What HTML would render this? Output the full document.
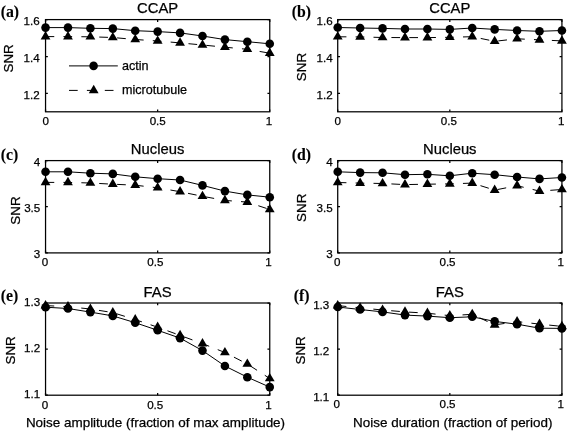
<!DOCTYPE html>
<html><head><meta charset="utf-8"><title>SNR vs noise</title>
<style>
html,body{margin:0;padding:0;background:#fff;}
body{width:568px;height:431px;overflow:hidden;}
svg{display:block;position:absolute;left:0;top:0;will-change:transform;}
text{font-family:"Liberation Sans",sans-serif;fill:#000;stroke:#000;stroke-width:0.25px;}
.tk{font-size:11.6px;}
.tt{font-size:14.8px;}
.lb{font-size:13.45px;}
.lg{font-size:12.6px;}
.tg{font-family:"Liberation Serif",serif;font-weight:bold;font-size:15.8px;stroke-width:0.1px;}
.ax{fill:none;stroke:#000;stroke-width:1.25;}
.ln{fill:none;stroke:#000;stroke-width:1.0;}
.ds{stroke-dasharray:8.7 9.2;}
.mk{fill:#000;stroke:none;}
</style></head>
<body>
<svg width="568" height="431" viewBox="0 0 568 431">
<rect x="0" y="0" width="568" height="431" fill="#fff"/>
<!-- panel a -->
<polyline class="ln" points="45.55,27.60 67.97,27.60 90.39,28.30 112.81,28.60 135.23,30.70 157.65,31.60 180.07,32.90 202.49,36.00 224.91,39.60 247.33,41.70 269.75,43.80"/>
<polyline class="ln ds" points="45.55,36.60 67.97,36.60 90.39,36.80 112.81,37.50 135.23,39.50 157.65,41.00 180.07,42.90 202.49,45.00 224.91,47.20 247.33,49.30 269.75,53.20"/>
<g class="mk">
<polygon points="45.55,31.00 40.65,39.40 50.45,39.40"/>
<polygon points="67.97,31.00 63.07,39.40 72.87,39.40"/>
<polygon points="90.39,31.20 85.49,39.60 95.29,39.60"/>
<polygon points="112.81,31.90 107.91,40.30 117.71,40.30"/>
<polygon points="135.23,33.90 130.33,42.30 140.13,42.30"/>
<polygon points="157.65,35.40 152.75,43.80 162.55,43.80"/>
<polygon points="180.07,37.30 175.17,45.70 184.97,45.70"/>
<polygon points="202.49,39.40 197.59,47.80 207.39,47.80"/>
<polygon points="224.91,41.60 220.01,50.00 229.81,50.00"/>
<polygon points="247.33,43.70 242.43,52.10 252.23,52.10"/>
<polygon points="269.75,47.60 264.85,56.00 274.65,56.00"/>
<circle cx="45.55" cy="27.60" r="4.3"/>
<circle cx="67.97" cy="27.60" r="4.3"/>
<circle cx="90.39" cy="28.30" r="4.3"/>
<circle cx="112.81" cy="28.60" r="4.3"/>
<circle cx="135.23" cy="30.70" r="4.3"/>
<circle cx="157.65" cy="31.60" r="4.3"/>
<circle cx="180.07" cy="32.90" r="4.3"/>
<circle cx="202.49" cy="36.00" r="4.3"/>
<circle cx="224.91" cy="39.60" r="4.3"/>
<circle cx="247.33" cy="41.70" r="4.3"/>
<circle cx="269.75" cy="43.80" r="4.3"/>
</g>
<rect class="ax" x="45.55" y="19.60" width="224.20" height="92.20"/>
<path class="ax" d="M45.55,19.60h2.3 M269.75,19.60h-2.3 M45.55,56.50h2.3 M269.75,56.50h-2.3 M45.55,93.30h2.3 M269.75,93.30h-2.3 M45.55,111.80v-2.3 M45.55,19.60v2.3 M157.65,111.80v-2.3 M157.65,19.60v2.3 M269.75,111.80v-2.3 M269.75,19.60v2.3"/>
<text class="tk" text-anchor="end" x="39.7" y="25.1">1.6</text>
<text class="tk" text-anchor="end" x="39.7" y="62.0">1.4</text>
<text class="tk" text-anchor="end" x="39.7" y="98.8">1.2</text>
<text class="tk" text-anchor="middle" x="45.8" y="125.1">0</text>
<text class="tk" text-anchor="middle" x="157.7" y="125.1">0.5</text>
<text class="tk" text-anchor="middle" x="269.1" y="125.1">1</text>
<text class="tt" text-anchor="middle" x="157.6" y="13.0">CCAP</text>
<text class="lb" text-anchor="middle" transform="translate(13.3,58.4) rotate(-90)">SNR</text>
<text class="tg" x="0.7" y="16.9">(a)</text>
<!-- panel b -->
<polyline class="ln" points="337.72,27.50 360.14,28.00 382.56,28.40 404.98,29.00 427.40,29.00 449.82,29.40 472.24,28.00 494.66,29.40 517.08,30.50 539.50,31.30 561.92,30.50"/>
<polyline class="ln ds" points="337.72,36.80 360.14,36.90 382.56,37.50 404.98,37.60 427.40,37.60 449.82,37.30 472.24,36.70 494.66,41.30 517.08,38.80 539.50,39.85 561.92,40.90"/>
<g class="mk">
<polygon points="337.72,31.20 332.82,39.60 342.62,39.60"/>
<polygon points="360.14,31.30 355.24,39.70 365.04,39.70"/>
<polygon points="382.56,31.90 377.66,40.30 387.46,40.30"/>
<polygon points="404.98,32.00 400.08,40.40 409.88,40.40"/>
<polygon points="427.40,32.00 422.50,40.40 432.30,40.40"/>
<polygon points="449.82,31.70 444.92,40.10 454.72,40.10"/>
<polygon points="472.24,31.10 467.34,39.50 477.14,39.50"/>
<polygon points="494.66,35.70 489.76,44.10 499.56,44.10"/>
<polygon points="517.08,33.20 512.18,41.60 521.98,41.60"/>
<polygon points="539.50,34.25 534.60,42.65 544.40,42.65"/>
<polygon points="561.92,35.30 557.02,43.70 566.82,43.70"/>
<circle cx="337.72" cy="27.50" r="4.3"/>
<circle cx="360.14" cy="28.00" r="4.3"/>
<circle cx="382.56" cy="28.40" r="4.3"/>
<circle cx="404.98" cy="29.00" r="4.3"/>
<circle cx="427.40" cy="29.00" r="4.3"/>
<circle cx="449.82" cy="29.40" r="4.3"/>
<circle cx="472.24" cy="28.00" r="4.3"/>
<circle cx="494.66" cy="29.40" r="4.3"/>
<circle cx="517.08" cy="30.50" r="4.3"/>
<circle cx="539.50" cy="31.30" r="4.3"/>
<circle cx="561.92" cy="30.50" r="4.3"/>
</g>
<rect class="ax" x="337.72" y="19.60" width="224.20" height="92.20"/>
<path class="ax" d="M337.72,19.60h2.3 M561.92,19.60h-2.3 M337.72,56.50h2.3 M561.92,56.50h-2.3 M337.72,93.30h2.3 M561.92,93.30h-2.3 M337.72,111.80v-2.3 M337.72,19.60v2.3 M449.82,111.80v-2.3 M449.82,19.60v2.3 M561.92,111.80v-2.3 M561.92,19.60v2.3"/>
<text class="tk" text-anchor="end" x="332.7" y="25.1">1.6</text>
<text class="tk" text-anchor="end" x="332.7" y="62.0">1.4</text>
<text class="tk" text-anchor="end" x="332.7" y="98.8">1.2</text>
<text class="tk" text-anchor="middle" x="337.7" y="125.0">0</text>
<text class="tk" text-anchor="middle" x="448.9" y="125.0">0.5</text>
<text class="tk" text-anchor="middle" x="561.2" y="125.0">1</text>
<text class="tt" text-anchor="middle" x="449.8" y="13.0">CCAP</text>
<text class="lb" text-anchor="middle" transform="translate(306.3,67.1) rotate(-90)">SNR</text>
<text class="tg" x="291.7" y="16.9">(b)</text>
<!-- panel c -->
<polyline class="ln" points="45.55,171.80 67.97,171.80 90.39,173.20 112.81,173.90 135.23,176.80 157.65,178.70 180.07,180.00 202.49,185.40 224.91,191.10 247.33,194.90 269.75,197.20"/>
<polyline class="ln ds" points="45.55,182.40 67.97,182.40 90.39,183.00 112.81,184.20 135.23,185.20 157.65,187.80 180.07,191.70 202.49,196.30 224.91,200.40 247.33,202.10 269.75,209.50"/>
<g class="mk">
<polygon points="45.55,176.80 40.65,185.20 50.45,185.20"/>
<polygon points="67.97,176.80 63.07,185.20 72.87,185.20"/>
<polygon points="90.39,177.40 85.49,185.80 95.29,185.80"/>
<polygon points="112.81,178.60 107.91,187.00 117.71,187.00"/>
<polygon points="135.23,179.60 130.33,188.00 140.13,188.00"/>
<polygon points="157.65,182.20 152.75,190.60 162.55,190.60"/>
<polygon points="180.07,186.10 175.17,194.50 184.97,194.50"/>
<polygon points="202.49,190.70 197.59,199.10 207.39,199.10"/>
<polygon points="224.91,194.80 220.01,203.20 229.81,203.20"/>
<polygon points="247.33,196.50 242.43,204.90 252.23,204.90"/>
<polygon points="269.75,203.90 264.85,212.30 274.65,212.30"/>
<circle cx="45.55" cy="171.80" r="4.3"/>
<circle cx="67.97" cy="171.80" r="4.3"/>
<circle cx="90.39" cy="173.20" r="4.3"/>
<circle cx="112.81" cy="173.90" r="4.3"/>
<circle cx="135.23" cy="176.80" r="4.3"/>
<circle cx="157.65" cy="178.70" r="4.3"/>
<circle cx="180.07" cy="180.00" r="4.3"/>
<circle cx="202.49" cy="185.40" r="4.3"/>
<circle cx="224.91" cy="191.10" r="4.3"/>
<circle cx="247.33" cy="194.90" r="4.3"/>
<circle cx="269.75" cy="197.20" r="4.3"/>
</g>
<rect class="ax" x="45.55" y="160.60" width="224.20" height="92.30"/>
<path class="ax" d="M45.55,160.60h2.3 M269.75,160.60h-2.3 M45.55,206.70h2.3 M269.75,206.70h-2.3 M45.55,252.90h2.3 M269.75,252.90h-2.3 M45.55,252.90v-2.3 M45.55,160.60v2.3 M157.65,252.90v-2.3 M157.65,160.60v2.3 M269.75,252.90v-2.3 M269.75,160.60v2.3"/>
<text class="tk" text-anchor="end" x="40.3" y="166.0">4</text>
<text class="tk" text-anchor="end" x="40.3" y="212.1">3.5</text>
<text class="tk" text-anchor="end" x="40.3" y="258.3">3</text>
<text class="tk" text-anchor="middle" x="44.9" y="265.9">0</text>
<text class="tk" text-anchor="middle" x="155.3" y="265.9">0.5</text>
<text class="tk" text-anchor="middle" x="268.6" y="265.9">1</text>
<text class="tt" text-anchor="middle" x="157.6" y="153.5">Nucleus</text>
<text class="lb" text-anchor="middle" transform="translate(20.4,210.6) rotate(-90)">SNR</text>
<text class="tg" x="0.7" y="160.4">(c)</text>
<!-- panel d -->
<polyline class="ln" points="337.72,171.80 360.14,172.60 382.56,172.80 404.98,174.70 427.40,174.30 449.82,175.80 472.24,173.20 494.66,174.70 517.08,177.00 539.50,178.90 561.92,177.50"/>
<polyline class="ln ds" points="337.72,182.50 360.14,183.10 382.56,183.50 404.98,184.60 427.40,184.20 449.82,183.90 472.24,183.10 494.66,190.10 517.08,185.70 539.50,191.10 561.92,189.50"/>
<g class="mk">
<polygon points="337.72,176.90 332.82,185.30 342.62,185.30"/>
<polygon points="360.14,177.50 355.24,185.90 365.04,185.90"/>
<polygon points="382.56,177.90 377.66,186.30 387.46,186.30"/>
<polygon points="404.98,179.00 400.08,187.40 409.88,187.40"/>
<polygon points="427.40,178.60 422.50,187.00 432.30,187.00"/>
<polygon points="449.82,178.30 444.92,186.70 454.72,186.70"/>
<polygon points="472.24,177.50 467.34,185.90 477.14,185.90"/>
<polygon points="494.66,184.50 489.76,192.90 499.56,192.90"/>
<polygon points="517.08,180.10 512.18,188.50 521.98,188.50"/>
<polygon points="539.50,185.50 534.60,193.90 544.40,193.90"/>
<polygon points="561.92,183.90 557.02,192.30 566.82,192.30"/>
<circle cx="337.72" cy="171.80" r="4.3"/>
<circle cx="360.14" cy="172.60" r="4.3"/>
<circle cx="382.56" cy="172.80" r="4.3"/>
<circle cx="404.98" cy="174.70" r="4.3"/>
<circle cx="427.40" cy="174.30" r="4.3"/>
<circle cx="449.82" cy="175.80" r="4.3"/>
<circle cx="472.24" cy="173.20" r="4.3"/>
<circle cx="494.66" cy="174.70" r="4.3"/>
<circle cx="517.08" cy="177.00" r="4.3"/>
<circle cx="539.50" cy="178.90" r="4.3"/>
<circle cx="561.92" cy="177.50" r="4.3"/>
</g>
<rect class="ax" x="337.72" y="160.60" width="224.20" height="92.30"/>
<path class="ax" d="M337.72,160.60h2.3 M561.92,160.60h-2.3 M337.72,206.70h2.3 M561.92,206.70h-2.3 M337.72,252.90h2.3 M561.92,252.90h-2.3 M337.72,252.90v-2.3 M337.72,160.60v2.3 M449.82,252.90v-2.3 M449.82,160.60v2.3 M561.92,252.90v-2.3 M561.92,160.60v2.3"/>
<text class="tk" text-anchor="end" x="332.7" y="165.8">4</text>
<text class="tk" text-anchor="end" x="332.7" y="211.9">3.5</text>
<text class="tk" text-anchor="end" x="332.7" y="258.1">3</text>
<text class="tk" text-anchor="middle" x="337.2" y="265.9">0</text>
<text class="tk" text-anchor="middle" x="447.5" y="265.9">0.5</text>
<text class="tk" text-anchor="middle" x="560.7" y="265.9">1</text>
<text class="tt" text-anchor="middle" x="449.8" y="153.5">Nucleus</text>
<text class="lb" text-anchor="middle" transform="translate(306.3,207.8) rotate(-90)">SNR</text>
<text class="tg" x="291.7" y="160.4">(d)</text>
<!-- panel e -->
<polyline class="ln" points="45.55,307.20 67.97,308.50 90.39,312.10 112.81,315.90 135.23,322.70 157.65,330.30 180.07,338.10 202.49,350.60 224.91,366.00 247.33,377.20 269.75,387.10"/>
<polyline class="ln ds" points="45.55,305.60 67.97,306.70 90.39,309.00 112.81,312.60 135.23,319.60 157.65,327.20 180.07,335.40 202.49,343.60 224.91,352.50 247.33,364.00 269.75,378.50"/>
<g class="mk">
<polygon points="45.55,300.00 40.65,308.40 50.45,308.40"/>
<polygon points="67.97,301.10 63.07,309.50 72.87,309.50"/>
<polygon points="90.39,303.40 85.49,311.80 95.29,311.80"/>
<polygon points="112.81,307.00 107.91,315.40 117.71,315.40"/>
<polygon points="135.23,314.00 130.33,322.40 140.13,322.40"/>
<polygon points="157.65,321.60 152.75,330.00 162.55,330.00"/>
<polygon points="180.07,329.80 175.17,338.20 184.97,338.20"/>
<polygon points="202.49,338.00 197.59,346.40 207.39,346.40"/>
<polygon points="224.91,346.90 220.01,355.30 229.81,355.30"/>
<polygon points="247.33,358.40 242.43,366.80 252.23,366.80"/>
<polygon points="269.75,372.90 264.85,381.30 274.65,381.30"/>
<circle cx="45.55" cy="307.20" r="4.3"/>
<circle cx="67.97" cy="308.50" r="4.3"/>
<circle cx="90.39" cy="312.10" r="4.3"/>
<circle cx="112.81" cy="315.90" r="4.3"/>
<circle cx="135.23" cy="322.70" r="4.3"/>
<circle cx="157.65" cy="330.30" r="4.3"/>
<circle cx="180.07" cy="338.10" r="4.3"/>
<circle cx="202.49" cy="350.60" r="4.3"/>
<circle cx="224.91" cy="366.00" r="4.3"/>
<circle cx="247.33" cy="377.20" r="4.3"/>
<circle cx="269.75" cy="387.10" r="4.3"/>
</g>
<rect class="ax" x="45.55" y="303.00" width="224.20" height="92.20"/>
<path class="ax" d="M45.55,303.00h2.3 M269.75,303.00h-2.3 M45.55,349.10h2.3 M269.75,349.10h-2.3 M45.55,395.20h2.3 M269.75,395.20h-2.3 M45.55,395.20v-2.3 M45.55,303.00v2.3 M157.65,395.20v-2.3 M157.65,303.00v2.3 M269.75,395.20v-2.3 M269.75,303.00v2.3"/>
<text class="tk" text-anchor="end" x="40.1" y="305.5">1.3</text>
<text class="tk" text-anchor="end" x="40.1" y="351.6">1.2</text>
<text class="tk" text-anchor="end" x="40.1" y="397.7">1.1</text>
<text class="tk" text-anchor="middle" x="44.9" y="409.2">0</text>
<text class="tk" text-anchor="middle" x="155.2" y="409.2">0.5</text>
<text class="tk" text-anchor="middle" x="268.6" y="409.2">1</text>
<text class="tt" text-anchor="middle" x="157.6" y="296.9">FAS</text>
<text class="lb" text-anchor="middle" transform="translate(14.6,350.4) rotate(-90)">SNR</text>
<text class="tg" x="0.7" y="300.9">(e)</text>
<!-- panel f -->
<polyline class="ln" points="337.72,307.00 360.14,309.50 382.56,311.90 404.98,315.10 427.40,316.10 449.82,317.70 472.24,316.80 494.66,321.40 517.08,324.20 539.50,328.20 561.92,328.40"/>
<polyline class="ln ds" points="337.72,305.60 360.14,307.90 382.56,310.00 404.98,311.90 427.40,313.20 449.82,315.70 472.24,314.30 494.66,324.90 517.08,321.60 539.50,324.10 561.92,326.40"/>
<g class="mk">
<polygon points="337.72,300.00 332.82,308.40 342.62,308.40"/>
<polygon points="360.14,302.30 355.24,310.70 365.04,310.70"/>
<polygon points="382.56,304.40 377.66,312.80 387.46,312.80"/>
<polygon points="404.98,306.30 400.08,314.70 409.88,314.70"/>
<polygon points="427.40,307.60 422.50,316.00 432.30,316.00"/>
<polygon points="449.82,310.10 444.92,318.50 454.72,318.50"/>
<polygon points="472.24,308.70 467.34,317.10 477.14,317.10"/>
<polygon points="494.66,319.30 489.76,327.70 499.56,327.70"/>
<polygon points="517.08,316.00 512.18,324.40 521.98,324.40"/>
<polygon points="539.50,318.50 534.60,326.90 544.40,326.90"/>
<polygon points="561.92,320.80 557.02,329.20 566.82,329.20"/>
<circle cx="337.72" cy="307.00" r="4.3"/>
<circle cx="360.14" cy="309.50" r="4.3"/>
<circle cx="382.56" cy="311.90" r="4.3"/>
<circle cx="404.98" cy="315.10" r="4.3"/>
<circle cx="427.40" cy="316.10" r="4.3"/>
<circle cx="449.82" cy="317.70" r="4.3"/>
<circle cx="472.24" cy="316.80" r="4.3"/>
<circle cx="494.66" cy="321.40" r="4.3"/>
<circle cx="517.08" cy="324.20" r="4.3"/>
<circle cx="539.50" cy="328.20" r="4.3"/>
<circle cx="561.92" cy="328.40" r="4.3"/>
</g>
<rect class="ax" x="337.72" y="303.00" width="224.20" height="92.20"/>
<path class="ax" d="M337.72,303.00h2.3 M561.92,303.00h-2.3 M337.72,349.10h2.3 M561.92,349.10h-2.3 M337.72,395.20h2.3 M561.92,395.20h-2.3 M337.72,395.20v-2.3 M337.72,303.00v2.3 M449.82,395.20v-2.3 M449.82,303.00v2.3 M561.92,395.20v-2.3 M561.92,303.00v2.3"/>
<text class="tk" text-anchor="end" x="329.3" y="308.6">1.3</text>
<text class="tk" text-anchor="end" x="329.3" y="354.7">1.2</text>
<text class="tk" text-anchor="end" x="329.3" y="400.8">1.1</text>
<text class="tk" text-anchor="middle" x="336.8" y="408.4">0</text>
<text class="tk" text-anchor="middle" x="447.5" y="408.4">0.5</text>
<text class="tk" text-anchor="middle" x="560.7" y="408.4">1</text>
<text class="tt" text-anchor="middle" x="449.8" y="296.9">FAS</text>
<text class="lb" text-anchor="middle" transform="translate(304.9,350.4) rotate(-90)">SNR</text>
<text class="tg" x="293.8" y="300.9">(f)</text>
<!-- legend -->
<line class="ln" x1="69" y1="65.9" x2="117.8" y2="65.9"/>
<circle class="mk" cx="93.6" cy="65.9" r="4.3"/>
<line class="ln ds" x1="69" y1="90.4" x2="117.8" y2="90.4"/>
<g class="mk"><polygon points="93.70,84.80 88.80,93.20 98.60,93.20"/></g>
<text class="lg" x="122.0" y="70.0">actin</text>
<text class="lg" x="122.0" y="94.0">microtubule</text>
<text class="lb" text-anchor="middle" x="155.5" y="427.4">Noise amplitude (fraction of max amplitude)</text>
<text class="lb" text-anchor="middle" x="452.8" y="427.2">Noise duration (fraction of period)</text>
</svg>
</body></html>
